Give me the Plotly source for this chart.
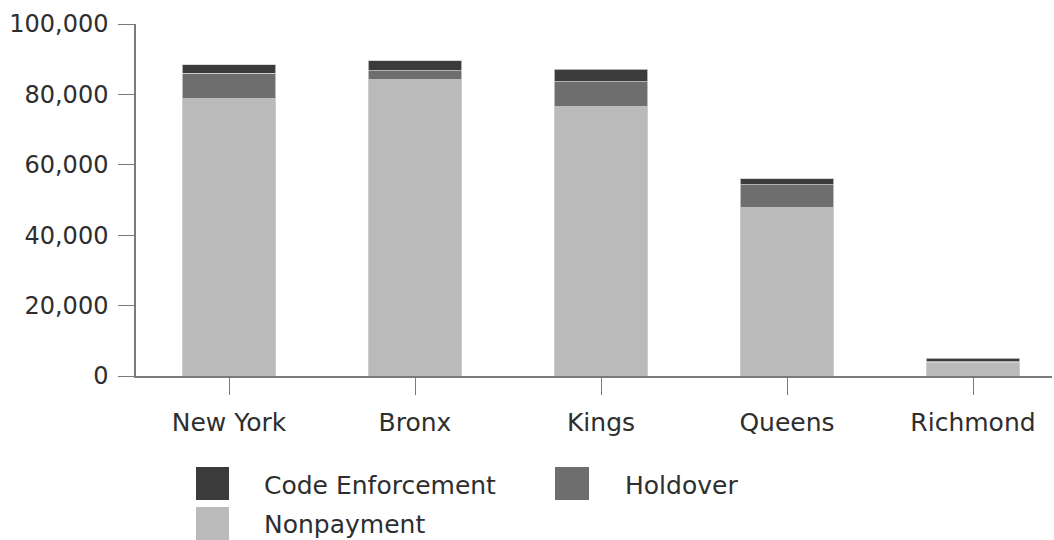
import plotly.graph_objects as go

# ---- data ----
boroughs = ["New York", "Bronx", "Kings", "Queens", "Richmond"]
nonpayment = [78700, 84100, 76500, 47800, 3900]
holdover = [7300, 2600, 7100, 6600, 200]
code_enforcement = [2400, 2800, 3500, 1600, 1000]
series_names = ["Code Enforcement", "Holdover", "Nonpayment"]
y_ticks = [0, 20000, 40000, 60000, 80000, 100000]

# ---- style ----
FONT = "DejaVu Sans"
TXT = "#2e2e2e"
AX = "#7a7a7a"
C_CODE = "#3b3b3b"
C_HOLD = "#6e6e6e"
C_NONP = "#bababa"

W, H = 1054, 540
ML, MR, MT, MB = 136, 2, 24, 164
PW, PH = W - ML - MR, H - MT - MB


def px(x):
    return (x - ML) / PW


def py(y):
    return (H - MB - y) / PH


fig = go.Figure()
for name, vals, col in [
    (series_names[2], nonpayment, C_NONP),
    (series_names[1], holdover, C_HOLD),
    (series_names[0], code_enforcement, C_CODE),
]:
    fig.add_trace(go.Bar(
        x=boroughs, y=vals, name=name, showlegend=False,
        marker=dict(color=col, line=dict(color="#d0d0d0", width=0.8)),
    ))

# manual legend (large swatches)
legend_items = [
    (series_names[0], C_CODE, 196, 229, 467, 500, 262, 485),
    (series_names[1], C_HOLD, 555, 589, 467, 500, 623, 485),
    (series_names[2], C_NONP, 196, 229, 507, 540, 262, 524),
]
shapes = []
annotations = []
for name, col, x0, x1, y0, y1, tx, ty in legend_items:
    shapes.append(dict(type="rect", xref="paper", yref="paper",
                       x0=px(x0), x1=px(x1), y0=py(y1), y1=py(y0),
                       fillcolor=col, line=dict(width=0)))
    annotations.append(dict(text=name, xref="paper", yref="paper",
                            x=px(tx), y=py(ty), xanchor="left", yanchor="middle",
                            showarrow=False, font=dict(family=FONT, size=25, color=TXT)))

fig.update_layout(
    width=W, height=H,
    margin=dict(l=ML, r=MR, t=MT, b=MB, pad=0),
    paper_bgcolor="white", plot_bgcolor="white",
    barmode="stack", bargap=0.495,
    font=dict(family=FONT, color=TXT),
    shapes=shapes, annotations=annotations,
    xaxis=dict(
        range=[-0.5, -0.5 + PW / 186.0],
        showline=True, linecolor=AX, linewidth=1.5,
        ticks="outside", ticklen=17, tickcolor=AX, tickwidth=1.2,
        tickfont=dict(family=FONT, size=25, color=TXT),
        ticklabelstandoff=6,
        showgrid=False, zeroline=False,
    ),
    yaxis=dict(
        range=[0, 100000],
        tickvals=y_ticks, tickformat=",d",
        showline=True, linecolor=AX, linewidth=1.5,
        ticks="outside", ticklen=16, tickcolor=AX, tickwidth=1.2,
        tickfont=dict(family=FONT, size=24, color=TXT),
        ticklabelstandoff=5,
        showgrid=False, zeroline=False,
    ),
)

fig.write_html("out.html")
